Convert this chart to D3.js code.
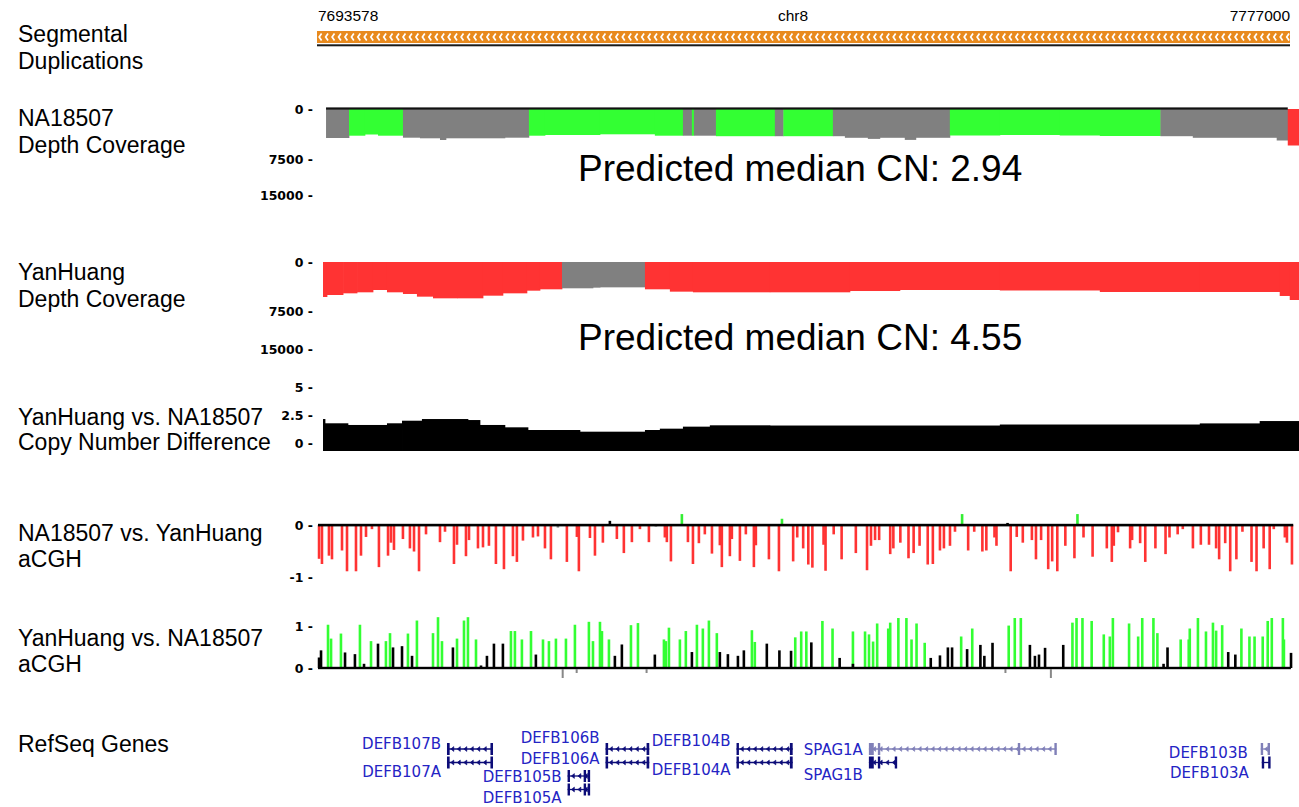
<!DOCTYPE html>
<html>
<head>
<meta charset="utf-8">
<script src="https://cdn.jsdelivr.net/npm/d3@7"></script>
<style>
  body { margin: 0; background: #fff; }
  svg { font-family: "Liberation Sans", Arial, sans-serif; }
</style>
</head>
<body>
<svg></svg>
<script>
// region shown (chr8), positions below are kb offsets from regionStart
const chrom = "chr8";
const regionStart = 7693578;
const regionEnd = 7777000;
const spanKb = (regionEnd - regionStart) / 1000;

const segDupStartKb = [0];
const segDupEndKb = [spanKb];

// NA18507 read depth, step bins
const naBinKb = [0.69, 2.66, 4.03, 5.15, 7.29, 8.75, 10.47, 10.98, 16.04, 18.10, 19.48, 24.20, 28.91,
  31.32, 32.09, 32.26, 34.15, 39.21, 39.94, 44.19, 45.22, 47.19, 48.22, 50.36, 51.31, 54.23, 58.52,
  63.66, 67.10, 72.30, 75.08, 82.28, 83.23];
const naDepth = [4350, 4005, 3825, 4005, 4305, 4395, 4650, 4395, 4305, 4005, 3900, 3795, 4005,
  4005, 4005, 4005, 4080, 4080, 4080, 4080, 4320, 4485, 4320, 4635, 4320, 3975, 3900,
  3975, 4050, 4080, 4320, 4725, 5475];
const naCall = ["n", "lo", "lo", "lo", "n", "n", "n", "n", "n", "lo", "lo", "lo", "lo",
  "n", "lo", "n", "lo", "n", "lo", "n", "n", "n", "n", "n", "n", "lo", "lo",
  "lo", "lo", "n", "n", "n", "hi"];
const naEndKb = 84.17;

// YanHuang read depth
const yhBinKb = [0.43, 0.77, 2.15, 3.35, 4.72, 5.92, 7.29, 8.49, 9.87, 11.93, 14.16, 15.87, 17.93, 19.05,
  20.94, 23.60, 24.20, 28.06, 30.20, 32.18, 38.78, 45.65, 49.94, 58.52, 67.10, 75.68, 82.54, 83.40];
const yhDepth = [5355, 5050, 4795, 4640, 4285, 4640, 4895, 5305, 5560, 5560, 5155, 4795, 4390, 4180,
  4025, 3930, 3880, 4180, 4540, 4640, 4640, 4440, 4285, 4360, 4590, 4590, 5200, 5815];
const yhCall = ["hi", "hi", "hi", "hi", "hi", "hi", "hi", "hi", "hi", "hi", "hi", "hi", "hi", "hi",
  "n", "n", "n", "hi", "hi", "hi", "hi", "hi", "hi", "hi", "hi", "hi", "hi", "hi"];
const yhEndKb = 84.17;

const predictedCN = [2.94, 4.55];

// copy number difference YanHuang - NA18507
const cnBinKb = [0.43, 0.60, 2.57, 5.92, 7.21, 8.92, 12.87, 13.90, 16.04, 18.02, 22.48, 28.06, 29.34,
  31.32, 33.63, 38.78, 58.52, 75.68, 80.82];
const cnDiff = [2.14, 1.76, 1.61, 1.76, 1.99, 2.14, 2.05, 1.61, 1.40, 1.16, 1.01, 1.16, 1.28,
  1.46, 1.58, 1.56, 1.65, 1.75, 1.96];
const cnEndKb = 84.17;

// aCGH NA18507 vs YanHuang (log ratio)
const naVsYhKb = [0.09, 0.34, 0.94, 1.20, 2.06, 2.49, 3.26, 3.69, 4.12, 4.63, 5.23, 6.01, 6.26, 6.52,
  7.29, 7.89, 8.24, 8.67, 9.27, 10.47, 10.90, 11.67, 11.93, 12.70, 12.96, 13.73, 14.16, 14.67, 15.27,
  15.96, 16.73, 17.07, 17.59, 18.45, 18.88, 19.48, 19.99, 20.59, 21.36, 22.22, 22.39, 23.34, 23.77,
  24.45, 25.05, 25.65, 26.25, 26.94, 27.63, 28.40, 29.00, 29.77, 29.94, 30.29, 31.23, 31.75, 32.18,
  32.69, 33.20, 33.81, 34.49, 34.66, 35.35, 35.52, 36.21, 36.72, 37.41, 37.58, 38.70,
  39.56, 39.82, 40.78, 41.13, 41.64, 42.08, 42.43, 43.39, 43.56, 44.26, 44.94, 46.16, 47.12, 47.46,
  47.81, 48.16, 49.11, 49.38, 49.98, 50.68, 51.12, 51.63, 52.33, 52.77, 53.38, 53.72, 54.24, 54.67,
  55.28, 55.80, 56.32, 57.02, 57.36, 58.06, 58.23, 59.18, 59.45, 59.97, 60.49, 61.27, 61.62, 62.06,
  62.67, 63.01, 63.45, 64.14, 64.92, 65.18, 65.70, 66.48, 67.70, 68.13, 68.30, 68.66, 69.70, 69.87,
  70.56, 71.00, 71.87, 72.74, 73.08, 73.78, 74.22, 75.09, 75.77, 76.47, 77.08, 77.34, 77.86, 78.29,
  78.82, 79.34, 80.12, 80.55, 81.16, 81.68, 82.03, 82.98, 83.16, 83.59];
const naVsYhRatio = [-0.65, -0.75, -0.59, -0.66, -0.49, -0.89, -0.89, -0.59, -0.23, -0.08, -0.81, -0.59,
  -0.34, -0.48, -0.27, -0.45, -0.51, -0.89, -0.18, -0.33, -0.13, -0.75, -0.38, -0.60, -0.29, -0.45,
  -0.43, -0.40, -0.75, -0.85, -0.60, -0.71, -0.30, -0.24, -0.22, -0.45, -0.66, -0.05, -0.71, -0.23,
  -0.89, -0.25, -0.59, -0.34, 0.08, -0.27, -0.54, -0.33, -0.08, -0.33, -0.03, -0.24, -0.33, -0.70,
  0.21, -0.33, -0.75, -0.35, -0.18, -0.55, -0.39, -0.81, -0.60, -0.27, -0.69, -0.18, -0.81, -0.39,
  -0.66, -0.89, 0.12, -0.70, -0.24, -0.45, -0.76, -0.82, -0.38, -0.88, -0.18, -0.66, -0.54, -0.87,
  -0.40, -0.29, -0.29, -0.56, -0.45, -0.34, -0.64, -0.54, -0.40, -0.76, -0.75, -0.49, -0.45, -0.40,
  -0.13, 0.21, -0.49, -0.13, -0.51, -0.49, -0.24, -0.40, 0.04, -0.89, -0.23, -0.34, -0.29, -0.66,
  -0.29, -0.85, -0.70, -0.89, -0.40, -0.64, 0.21, -0.24, -0.61, -0.45, -0.71, -0.40, -0.14, -0.45,
  -0.29, -0.35, -0.71, -0.45, -0.56, -0.24, -0.18, -0.08, -0.45, -0.38, -0.38, -0.45, -0.66, -0.35,
  -0.89, -0.66, -0.13, -0.71, -0.89, -0.45, -0.85, -0.08, -0.24, -0.34, -0.76];

// aCGH YanHuang vs NA18507: probes drawn green and probes drawn black
const yhVsNaGreenKb = [0.86, 1.12, 1.97, 3.60, 4.55, 5.83, 6.18, 7.72, 8.49, 9.87, 10.30, 10.64, 11.93,
  12.53, 12.87, 13.56, 16.56, 16.90, 17.50, 18.28, 19.31, 19.82, 20.42, 21.28, 22.05, 23.25, 23.60,
  24.20, 24.37, 24.97, 26.86, 27.46, 29.69, 29.86, 30.12, 31.06, 31.57, 32.52, 33.03, 33.55, 34.23,
  37.24, 37.49, 40.96, 41.47, 41.91, 43.29, 44.16, 45.91, 46.95, 47.29, 47.64, 47.99, 48.94, 49.11,
  49.81, 50.50, 50.94, 51.37, 52.07, 55.20, 56.15, 59.28, 59.80, 60.32, 64.75, 65.10, 65.61, 66.40,
  67.44, 67.96, 68.22, 69.61, 70.39, 70.74, 71.70, 72.04, 74.04, 74.73, 74.82, 75.52, 76.21, 76.81,
  77.08, 77.60, 79.25, 79.94, 80.38, 81.08, 81.51, 81.86, 82.81, 82.90];
const yhVsNaGreen = [1.03, 0.70, 0.82, 1.03, 0.64, 0.64, 0.83, 0.82, 1.13, 0.83, 1.21, 0.64, 0.70,
  1.13, 1.21, 0.68, 0.88, 0.88, 0.68, 0.88, 0.68, 0.64, 0.70, 0.70, 1.03, 1.10, 0.64,
  1.10, 0.88, 0.68, 1.02, 1.07, 0.68, 0.64, 0.96, 0.68, 0.88, 1.03, 0.94, 1.13, 0.83,
  0.90, 0.62, 0.73, 0.87, 0.87, 1.12, 0.94, 0.87, 0.87, 0.80, 0.63, 1.06, 0.94, 1.08,
  1.19, 1.19, 0.68, 1.06, 0.60, 0.75, 0.94, 1.01, 1.19, 1.19, 1.08, 1.19, 1.19, 1.12,
  0.80, 0.75, 1.19, 1.06, 0.75, 1.19, 1.19, 0.83, 0.68, 0.68, 0.94, 1.19, 0.87, 1.08,
  0.89, 1.02, 0.94, 0.75, 0.75, 0.75, 1.12, 1.19, 1.19, 0.68];
const yhVsNaBlackKb = [0.09, 0.26, 2.32, 3.17, 3.95, 5.15, 6.44, 7.21, 8.07, 11.58, 13.99, 14.50, 15.10,
  15.87, 18.70, 25.48, 26.08, 28.91, 32.09, 34.49, 35.18, 36.04, 36.55, 38.52, 39.60, 40.60, 42.34,
  44.77, 45.91, 52.59, 53.38, 54.06, 54.42, 55.71, 56.85, 57.19, 57.89, 61.10, 61.53, 61.88, 62.40,
  63.27, 63.96, 72.57, 72.91, 78.12, 78.73, 83.51];
const yhVsNaBlack = [0.25, 0.42, 0.37, 0.33, 0.10, 0.58, 0.49, 0.52, 0.29, 0.49, 0.06, 0.29, 0.58,
  0.58, 0.32, 0.29, 0.56, 0.32, 0.38, 0.38, 0.33, 0.29, 0.42, 0.58, 0.42, 0.41, 0.61,
  0.24, 0.10, 0.24, 0.30, 0.49, 0.49, 0.45, 0.55, 0.29, 0.60, 0.55, 0.29, 0.32, 0.48,
  0.02, 0.55, 0.10, 0.49, 0.38, 0.32, 0.36];
const rulerMarkKb = [21.0, 22.2, 28.2, 59.0, 62.9];
const rulerMarkLong = [true, false, false, false, true];

// RefSeq genes
const geneNames = ["DEFB107B", "DEFB107A", "DEFB106B", "DEFB106A", "DEFB105B", "DEFB105A",
  "DEFB104B", "DEFB104A", "SPAG1A", "SPAG1B", "DEFB103B", "DEFB103A"];
const geneStartKb = [11.07, 11.07, 24.68, 24.68, 21.42, 21.42, 35.92, 35.92, 47.28, 47.28, 80.91, 81.00];
const geneEndKb = [15.02, 15.02, 28.43, 28.43, 23.34, 23.34, 40.74, 40.74, 63.37, 49.68, 81.63, 81.68];
const geneRow = [0, 1, 0, 1, 2, 3, 0, 1, 0, 1, 0, 1];
const geneLight = [false, false, false, false, false, false, false, false, true, false, true, false];
const geneExonsKb = [
  [[11.07, 11.30], [14.80, 15.02]], [[11.07, 11.30], [14.80, 15.02]],
  [[24.68, 24.90], [28.20, 28.43]], [[24.68, 24.90], [28.20, 28.43]],
  [[21.42, 21.60], [22.80, 23.00], [23.15, 23.34]], [[21.42, 21.60], [22.80, 23.00], [23.15, 23.34]],
  [[35.92, 36.10], [40.50, 40.74]], [[35.92, 36.10], [40.50, 40.74]],
  [[47.28, 47.70], [48.05, 48.20], [60.06, 60.15], [63.20, 63.37]],
  [[47.28, 47.70], [48.05, 48.20], [49.50, 49.68]],
  [[80.91, 81.05], [81.50, 81.63]], [[81.00, 81.15], [81.55, 81.68]]
];

const depthTicks = [0, 7500, 15000];
const cnTicks = [0, 2.5, 5];
const acgh1Ticks = [0, -1];
const acgh2Ticks = [0, 1];

// ---------------------------------------------------------------
const W = 1299, H = 807;
const svg = d3.select("svg").attr("width", W).attr("height", H);

const x = d3.scaleLinear().domain([0, spanKb]).range([318, 1290]);

const colors = { lo: "#33ff33", n: "#808080", hi: "#ff3333" };
const geneDark = "#0c0c78", geneLite = "#8080b8", geneText = "#2424c4";

// track labels on the left
const trackLabels = [
  ["Segmental", "Duplications"], ["NA18507", "Depth Coverage"], ["YanHuang", "Depth Coverage"],
  ["YanHuang vs. NA18507", "Copy Number Difference"], ["NA18507 vs. YanHuang", "aCGH"],
  ["YanHuang vs. NA18507", "aCGH"], ["RefSeq Genes"]
];
const labelTop = [42, 126, 280, 425, 541, 646, 752];
const labelGap = [27, 27, 27, 25, 26, 26, 27];
trackLabels.forEach((lines, i) => {
  lines.forEach((t, j) => {
    svg.append("text").attr("x", 18).attr("y", labelTop[i] + j * labelGap[i])
      .attr("font-size", 23).text(t);
  });
});

// header position ruler
svg.append("text").attr("x", x(0)).attr("y", 21).attr("font-size", 15.5).text(regionStart);
svg.append("text").attr("x", 793).attr("y", 21).attr("font-size", 15.5)
  .attr("text-anchor", "middle").text(chrom);
svg.append("text").attr("x", x(spanKb)).attr("y", 21).attr("font-size", 15.5)
  .attr("text-anchor", "end").text(regionEnd);

// segmental duplication bar with strand chevrons
segDupStartKb.forEach((s, i) => {
  const x0 = x(s) - 1, x1 = x(segDupEndKb[i]);
  svg.append("rect").attr("x", x0).attr("y", 31).attr("width", x1 - x0).attr("height", 12)
    .attr("fill", "#e88a1e");
  svg.append("g").selectAll("path")
    .data(d3.range(x0 + 3, x1 - 2, 6.45))
    .join("path")
    .attr("d", c => `M${c + 1.6},33.6L${c - 0.8},37L${c + 1.6},40.4`)
    .attr("fill", "none").attr("stroke", "#fff").attr("stroke-width", 1.7);
  svg.append("rect").attr("x", x0).attr("y", 44.3).attr("width", x1 - x0).attr("height", 2)
    .attr("fill", "#1a1a1a");
});

function tickLabels(scale, ticks) {
  svg.append("g").selectAll("text")
    .data(ticks)
    .join("text")
    .attr("x", 313)
    .attr("y", d => scale(d) + 4.5)
    .attr("text-anchor", "end")
    .style("font-family", "'DejaVu Sans', sans-serif")
    .attr("font-weight", "bold")
    .attr("font-size", 12.5)
    .text(d => d + " -");
}

function depthBins(binKb, vals, calls, endKb, y) {
  svg.append("g").selectAll("rect")
    .data(binKb)
    .join("rect")
    .attr("x", d => x(d))
    .attr("width", (d, i) => x(i + 1 < binKb.length ? binKb[i + 1] : endKb) - x(d) + 0.4)
    .attr("y", y(0))
    .attr("height", (d, i) => y(vals[i]) - y(0))
    .attr("fill", (d, i) => colors[calls[i]]);
}

// NA18507 depth
const yNa = d3.scaleLinear().domain(depthTicks).range([109, 159, 195]);
tickLabels(yNa, depthTicks);
depthBins(naBinKb, naDepth, naCall, naEndKb, yNa);
const naHiStart = naBinKb[naCall.indexOf("hi")];
svg.append("rect").attr("x", x(naBinKb[0])).attr("y", yNa(0) - 1.6)
  .attr("width", x(naHiStart) - x(naBinKb[0])).attr("height", 2.2).attr("fill", "#111");
svg.append("text").attr("x", 578).attr("y", 181).attr("font-size", 37)
  .text("Predicted median CN: " + predictedCN[0].toFixed(2));

// YanHuang depth
const yYh = d3.scaleLinear().domain(depthTicks).range([262, 311, 349]);
tickLabels(yYh, depthTicks);
depthBins(yhBinKb, yhDepth, yhCall, yhEndKb, yYh);
svg.append("text").attr("x", 578).attr("y", 350).attr("font-size", 37)
  .text("Predicted median CN: " + predictedCN[1].toFixed(2));

// copy number difference
const yCn = d3.scaleLinear().domain([0, 5]).range([443, 387]);
tickLabels(yCn, cnTicks);
const cnBase = 451;
svg.append("g").selectAll("rect")
  .data(cnBinKb)
  .join("rect")
  .attr("x", d => x(d))
  .attr("width", (d, i) => x(i + 1 < cnBinKb.length ? cnBinKb[i + 1] : cnEndKb) - x(d) + 0.4)
  .attr("y", (d, i) => yCn(cnDiff[i]))
  .attr("height", (d, i) => cnBase - yCn(cnDiff[i]))
  .attr("fill", "#000");

// aCGH NA18507 vs YanHuang
const barW = 2.6;
const yA1 = d3.scaleLinear().domain([-1, 0]).range([577, 525]);
tickLabels(yA1, acgh1Ticks);
const a1Color = v => v > 0.1 ? "#33ee33" : v > 0 ? "#000" : v > -0.06 ? "#888" : "#ff3333";
svg.append("g").selectAll("rect")
  .data(naVsYhKb)
  .join("rect")
  .attr("x", d => x(d) - barW / 2)
  .attr("width", barW)
  .attr("y", (d, i) => Math.min(yA1(0), yA1(naVsYhRatio[i])))
  .attr("height", (d, i) => Math.abs(yA1(naVsYhRatio[i]) - yA1(0)))
  .attr("fill", (d, i) => a1Color(naVsYhRatio[i]));
svg.append("rect").attr("x", x(0)).attr("y", yA1(0) - 1.2)
  .attr("width", x(83.7) - x(0)).attr("height", 2.6).attr("fill", "#000");

// aCGH YanHuang vs NA18507
const yA2 = d3.scaleLinear().domain([0, 1]).range([668, 626]);
tickLabels(yA2, acgh2Ticks);
function upBars(kb, vals, fill) {
  svg.append("g").selectAll("rect")
    .data(kb)
    .join("rect")
    .attr("x", d => x(d) - barW / 2)
    .attr("width", barW)
    .attr("y", (d, i) => yA2(vals[i]))
    .attr("height", (d, i) => yA2(0) - yA2(vals[i]))
    .attr("fill", fill);
}
upBars(yhVsNaGreenKb, yhVsNaGreen, "#33ff33");
upBars(yhVsNaBlackKb, yhVsNaBlack, "#000");
svg.append("rect").attr("x", x(0)).attr("y", yA2(0) - 1.2)
  .attr("width", x(83.5) - x(0)).attr("height", 2.4).attr("fill", "#000");
svg.append("g").selectAll("rect")
  .data(rulerMarkKb)
  .join("rect")
  .attr("x", d => x(d) - 1)
  .attr("y", yA2(0) + 1)
  .attr("width", 2)
  .attr("height", (d, i) => rulerMarkLong[i] ? 9 : 4)
  .attr("fill", "#888");

// RefSeq genes
const rowY = r => 749 + r * 13.5;
const labelDy = [0, 14, -6, 1, 6, 13.5, -3, 12.5, 6, 17.5, 9, 15];
const labelDx = [0, 0, 0, 0, 0, 0, 0, 0, 0, 0, -7, -7];
const geneG = svg.append("g");
geneNames.forEach((name, i) => {
  const y = rowY(geneRow[i]);
  const col = geneLight[i] ? geneLite : geneDark;
  const x0 = x(geneStartKb[i]), x1 = x(geneEndKb[i]);
  geneG.append("line").attr("x1", x0).attr("x2", x1).attr("y1", y).attr("y2", y)
    .attr("stroke", col).attr("stroke-width", 1.3);
  geneG.append("g").selectAll("path")
    .data(d3.range(x0 + 5, x1 - 3, 6.5))
    .join("path")
    .attr("d", c => `M${c + 1.8},${y - 2.4}L${c - 1.2},${y}L${c + 1.8},${y + 2.4}Z`)
    .attr("fill", col).attr("stroke", col).attr("stroke-width", 0.6);
  geneG.append("g").selectAll("rect")
    .data(geneExonsKb[i])
    .join("rect")
    .attr("x", e => x(e[0]))
    .attr("width", e => Math.max(2.4, x(e[1]) - x(e[0])))
    .attr("y", y - 6)
    .attr("height", 12)
    .attr("fill", col);
  geneG.append("text")
    .attr("x", x0 - 6 + labelDx[i])
    .attr("y", y + labelDy[i])
    .attr("text-anchor", "end")
    .style("font-family", "'DejaVu Sans', sans-serif")
    .attr("font-size", 15)
    .attr("fill", geneText)
    .text(name);
});
</script>
</body>
</html>
